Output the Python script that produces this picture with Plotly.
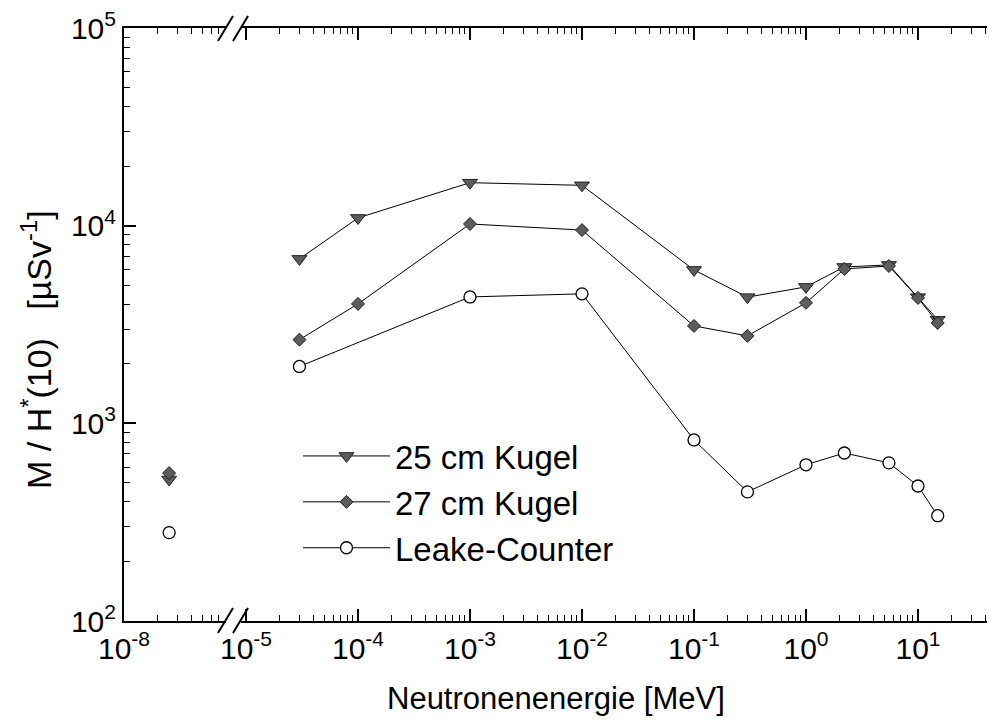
import plotly.graph_objects as go

# ---------------- data ----------------
thermal_E = [2.53e-8]
thermal_25 = [520]
thermal_27 = [560]
thermal_leake = [280]

E_kugel = [3e-5, 1e-4, 1e-3, 1e-2, 1e-1, 0.3, 1.0, 2.2, 5.5, 10.0, 15.0]
kugel25 = [6790, 10940, 16500, 16000, 5970, 4350, 4900, 6180, 6330, 4350, 3340]
kugel27 = [2650, 4020, 10200, 9500, 3110, 2770, 4070, 6040, 6250, 4310, 3220]

E_leake = [3e-5, 1e-3, 1e-2, 1e-1, 0.3, 1.0, 2.2, 5.5, 10.0, 15.0]
leake = [1940, 4360, 4520, 824, 450, 617, 708, 631, 482, 341]

x1_tickvals = [1e-8]
x1_ticktext = ["10<sup>-8</sup>"]
x2_tickvals = [1e-5, 1e-4, 1e-3, 1e-2, 1e-1, 1e0, 1e1]
x2_ticktext = ["10<sup>-5</sup>", "10<sup>-4</sup>", "10<sup>-3</sup>", "10<sup>-2</sup>",
               "10<sup>-1</sup>", "10<sup>0</sup>", "10<sup>1</sup>"]
y_tickvals = [1e2, 1e3, 1e4, 1e5]
y_ticktext = ["10<sup>2</sup>", "10<sup>3</sup>", "10<sup>4</sup>", "10<sup>5</sup>"]

# ---------------- layout geometry (pixels) ----------------
W, H = 989, 720
L, R, T, B = 124, 987, 28, 621
PW, PH = R - L, B - T
DEC = 112.0  # px per decade on x


def px(xp):
    return (xp - L) / PW


def py(yp):
    return (B - yp) / PH


FONT = "Liberation Sans, Arial, sans-serif"

x1_end = 226
x2_start = 241
x1_range = [-8, -8 + (x1_end - L) / DEC]
x2_range = [-5 - (246 - x2_start) / DEC, 1 + (R - 918) / DEC]

fig = go.Figure()

line_style = dict(color="black", width=1)
tri = dict(symbol="triangle-down", size=13, color="#5c5c5c", line=dict(color="#222", width=1))
dia = dict(symbol="diamond", size=10, color="#5c5c5c", line=dict(color="#222", width=1))
cir = dict(symbol="circle", size=12, color="white", line=dict(color="black", width=1.3))

fig.add_trace(go.Scatter(x=E_kugel, y=kugel25, mode="lines+markers", name="25 cm Kugel",
                         line=line_style, marker=tri, xaxis="x2", yaxis="y"))
fig.add_trace(go.Scatter(x=E_kugel, y=kugel27, mode="lines+markers", name="27 cm Kugel",
                         line=line_style, marker=dia, xaxis="x2", yaxis="y"))
fig.add_trace(go.Scatter(x=E_leake, y=leake, mode="lines+markers", name="Leake-Counter",
                         line=line_style, marker=cir, xaxis="x2", yaxis="y"))

fig.add_trace(go.Scatter(x=thermal_E, y=thermal_25, mode="markers", marker=tri,
                         showlegend=False, xaxis="x", yaxis="y"))
fig.add_trace(go.Scatter(x=thermal_E, y=thermal_27, mode="markers", marker=dia,
                         showlegend=False, xaxis="x", yaxis="y"))
fig.add_trace(go.Scatter(x=thermal_E, y=thermal_leake, mode="markers", marker=cir,
                         showlegend=False, xaxis="x", yaxis="y"))

tickfont = dict(family=FONT, size=30, color="black")
common_x = dict(type="log", showline=True, linecolor="black", linewidth=2,
                ticks="inside", ticklen=12, tickwidth=1.5, tickcolor="black",
                mirror="allticks", showgrid=False, zeroline=False,
                tickfont=tickfont, tickmode="array",
                minor=dict(ticks="inside", ticklen=6, tickwidth=1.2, tickcolor="black",
                           dtick="D1", showgrid=False))

fig.update_layout(
    width=W, height=H,
    margin=dict(l=L, r=W - R, t=T, b=H - B),
    paper_bgcolor="white", plot_bgcolor="white",
    font=dict(family=FONT, color="black"),
    xaxis=dict(domain=[0, px(x1_end)], range=x1_range, anchor="y",
               tickvals=x1_tickvals, ticktext=x1_ticktext, **common_x),
    xaxis2=dict(domain=[px(x2_start), 1], range=x2_range, anchor="y",
                tickvals=x2_tickvals, ticktext=x2_ticktext, **common_x),
    yaxis=dict(type="log", range=[2, 5], domain=[0, 1], anchor="x", side="left",
               showline=True, linecolor="black", linewidth=2,
               ticks="inside", ticklen=12, tickwidth=1.5, tickcolor="black",
               showgrid=False, zeroline=False, tickfont=tickfont,
               tickmode="array", tickvals=y_tickvals, ticktext=y_ticktext,
               minor=dict(ticks="inside", ticklen=6, tickwidth=1.2, tickcolor="black",
                          dtick="D1", showgrid=False)),
    yaxis2=dict(type="log", range=[2, 5], domain=[0, 1], anchor="x2", side="right",
                overlaying="y",
                showline=True, linecolor="black", linewidth=2,
                ticks="inside", ticklen=12, tickwidth=1.5, tickcolor="black",
                showgrid=False, zeroline=False, showticklabels=False,
                tickmode="array", tickvals=y_tickvals,
                minor=dict(ticks="inside", ticklen=6, tickwidth=1.2, tickcolor="black",
                           dtick="D1", showgrid=False)),
    legend=dict(x=px(298), y=py(428), xanchor="left", yanchor="top",
                font=dict(family=FONT, size=33, color="black"),
                bgcolor="rgba(0,0,0,0)", itemwidth=87, tracegroupgap=0),
    showlegend=True,
)

# axis break marks
shapes = []
for (ya, yb) in [(633, 608), (41, 16)]:
    for x0 in (218, 233):
        shapes.append(dict(type="line", xref="paper", yref="paper",
                           x0=px(x0), y0=py(ya), x1=px(x0 + 15), y1=py(yb),
                           line=dict(color="black", width=2)))
fig.update_layout(shapes=shapes)

fig.add_annotation(text="Neutronenenergie [MeV]", xref="paper", yref="paper",
                   x=px(556), y=py(698), showarrow=False, xanchor="center", yanchor="middle",
                   font=dict(family=FONT, size=31, color="black"))
fig.add_annotation(text="M / H<sup>*</sup>(10)   [µSv<sup>-1</sup>]", xref="paper", yref="paper",
                   x=px(36), y=py(350), showarrow=False, textangle=-90,
                   xanchor="center", yanchor="middle",
                   font=dict(family=FONT, size=34, color="black"))

fig.write_html("out.html")
